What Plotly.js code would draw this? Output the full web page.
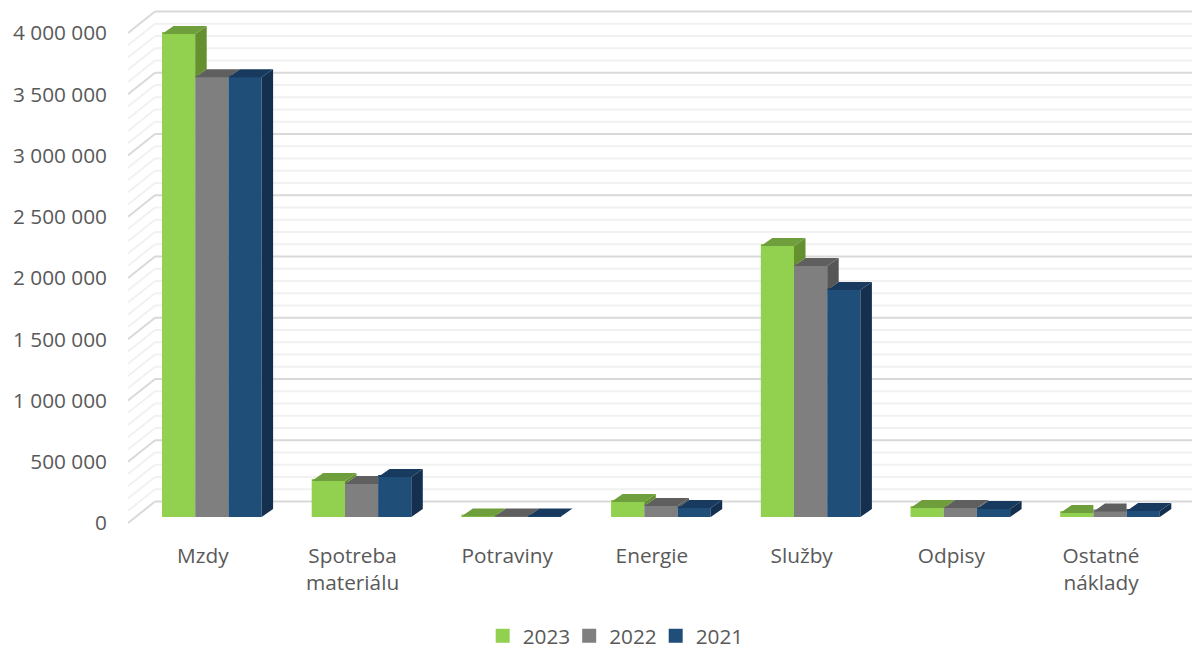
<!DOCTYPE html>
<html><head><meta charset="utf-8">
<script src="https://cdn.plot.ly/plotly-3.0.1.min.js"></script>
<style>html,body{margin:0;padding:0;background:#fff}#c{width:1192px;height:652px}</style>
</head><body><div id="c"></div>
<script>
const categories = ["Mzdy","Spotreba<br>materiálu","Potraviny","Energie","Služby","Odpisy","Ostatné<br>náklady"];
const years = ["2023","2022","2021"];
const values2023 = [3943000,294000,5000,122000,2212000,73000,33000];
const values2022 = [3590000,269000,5000,90000,2050000,73000,44000];
const values2021 = [3590000,327000,5000,73000,1853000,65000,49000];
const yTickValues = [0,500000,1000000,1500000,2000000,2500000,3000000,3500000,4000000];
const yTickLabels = ["0","500 000","1 000 000","1 500 000","2 000 000","2 500 000","3 000 000","3 500 000","4 000 000"];

const series = [values2023,values2022,values2021];
const frontColors = ["#92D050","#7F7F7F","#1F4E79"];
const topColors = ["#6F9E3C","#5F5F5F","#173A5E"];
const sideColors = ["#64902F","#565656","#15304F"];

// projection: pixels to data units
const W=1192,H=652,L=128,T=8,B=530,Y0=523;
const pxX=149.7, pxY=490/4000000;
const xUnit=p=>p/pxX, yUnit=p=>p/pxY;
const xLow=-0.5, xHigh=xLow+(W-L)/pxX;
const yLow=-yUnit(B-Y0), yHigh=yUnit(Y0-T);
const baseV=yUnit(6), depthX=xUnit(11.5), depthY=yUnit(8);
const wallX=xUnit(27), wallY=yUnit(21.5);
const barW=33.2/pxX, firstOff=-40.85/pxX;
const edge=1; // half of the marker outline, which also sizes the legend swatch

const shapes=[];
for(let k=0;k<=40;k++){
  const v=k*100000, major=k%5===0;
  const line={color:major?"#D9D9D9":"#F1F1F1",width:2};
  const x0=xLow+wallX;
  shapes.push({type:"line",layer:"below",xref:"x",yref:"y",x0:xLow,y0:v,x1:x0,y1:v+wallY,line});
  shapes.push({type:"line",layer:"below",xref:"x",yref:"y",x0:x0,y0:v+wallY,x1:xHigh,y1:v+wallY,line});
}

const traces=[];
series.forEach((vals,k)=>{
  traces.push({type:"bar",name:years[k],x:categories.map((_,i)=>i),y:vals,base:vals.map(()=>baseV+yUnit(edge)),
    width:barW-xUnit(2*edge),offset:firstOff+k*barW+xUnit(edge),
    marker:{color:frontColors[k],line:{width:2*edge,color:frontColors[k]}},hoverinfo:"x+y"});
});
series.forEach((vals,k)=>{
  const tx=[],ty=[],sx=[],sy=[];
  vals.forEach((v,i)=>{
    const xl=i+firstOff+k*barW, xr=xl+barW, t=baseV+v;
    const next=k<2?series[k+1][i]:0, tn=baseV+next;
    if(next>v){
      tx.push(xl,xr,xr,xl+depthX,xl,null); ty.push(t,t,t+depthY,t+depthY,t,null);
    }else{
      tx.push(xl,xr,xr+depthX,xl+depthX,xl,null); ty.push(t,t,t+depthY,t+depthY,t,null);
      sx.push(xr,xr+depthX,xr+depthX,xr,xr,null); sy.push(tn,tn+depthY,t+depthY,t,tn,null);
    }
  });
  traces.push({type:"scatter",mode:"lines",x:sx,y:sy,fill:"toself",fillcolor:sideColors[k],line:{width:0},showlegend:false,hoverinfo:"skip",cliponaxis:false});
  traces.push({type:"scatter",mode:"lines",x:tx,y:ty,fill:"toself",fillcolor:topColors[k],line:{width:0},showlegend:false,hoverinfo:"skip",cliponaxis:false});
});

const font={family:"'Open Sans',sans-serif",size:20.8,color:"#595959"};
Plotly.newPlot("c",traces,{
  width:W,height:H,margin:{l:L,r:0,t:T,b:H-B,pad:0},
  paper_bgcolor:"#fff",plot_bgcolor:"#fff",barmode:"overlay",showlegend:true,font,
  xaxis:{range:[xLow,xHigh],tickmode:"array",tickvals:categories.map((_,i)=>i+(i===2?0.033:0)),ticktext:categories,
    showgrid:false,zeroline:false,showline:false,ticks:"",ticklabelstandoff:11,tickangle:0,tickfont:font},
  yaxis:{range:[yLow,yHigh],tickmode:"array",tickvals:yTickValues,ticktext:yTickLabels,
    showgrid:false,zeroline:false,showline:false,ticks:"",ticklabelstandoff:20,tickfont:font},
  legend:{orientation:"h",xref:"container",yref:"container",x:0.514,xanchor:"center",y:0.024,yanchor:"middle",font,traceorder:"normal",itemclick:false,itemdoubleclick:false,entrywidth:41.5,entrywidthmode:"pixels"},
  shapes
},{displayModeBar:false,staticPlot:false});
</script></body></html>
